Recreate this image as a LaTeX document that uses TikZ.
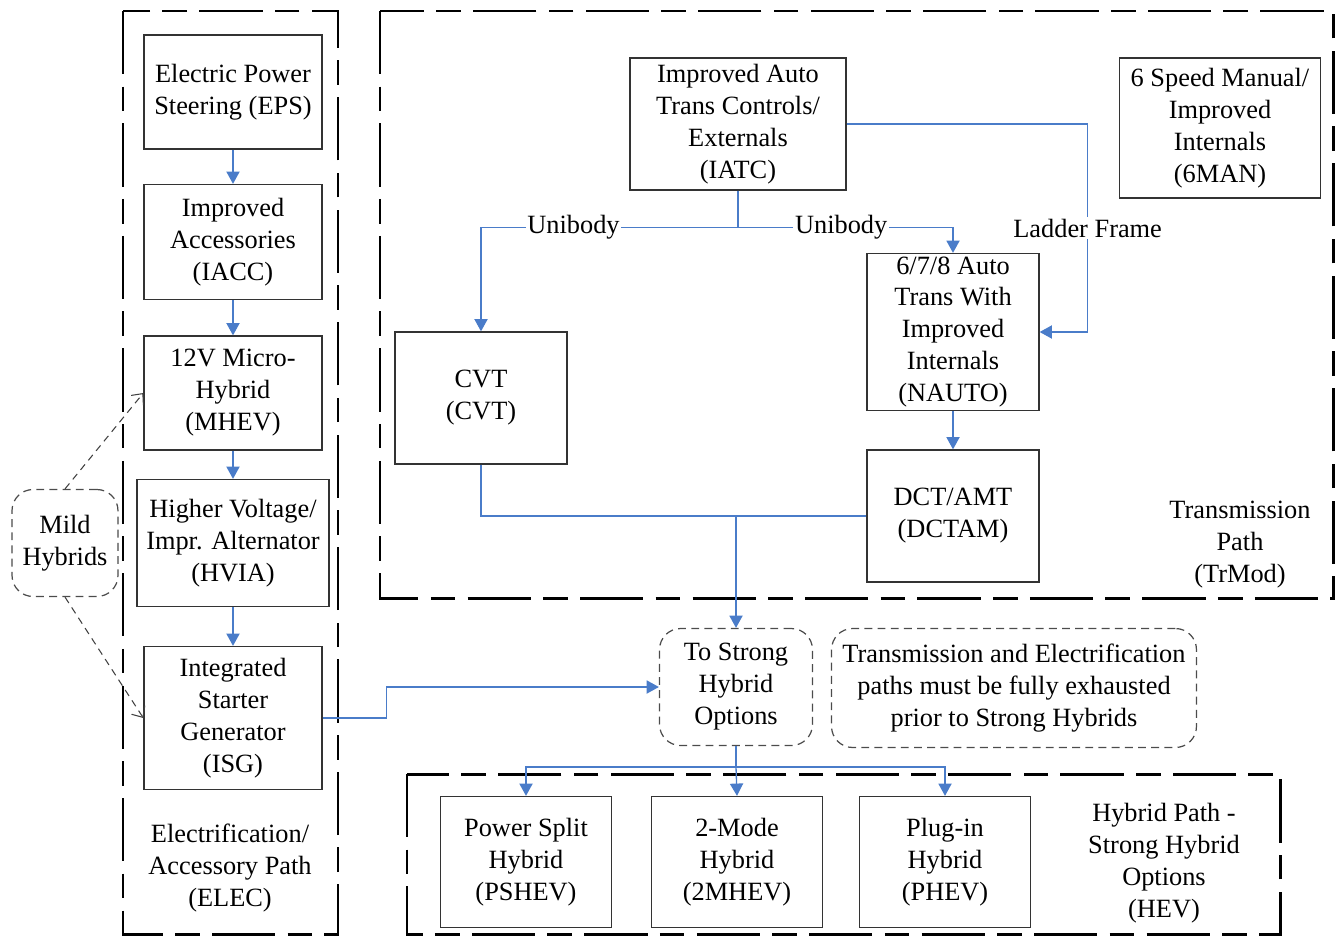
\documentclass[tikz,border=0pt]{standalone}
\usepackage{fontspec}
\setmainfont{Liberation Serif}
\usetikzlibrary{arrows.meta}
\definecolor{flowblue}{HTML}{4A7CC9}
\tikzset{
    tech-box/.style = {draw=black!80, line width=0.75pt, rectangle, align=center, inner sep=0pt},
    path-frame/.style = {draw=black, line width=1.7pt, dash pattern=on 36pt off 7pt on 14pt off 7pt},
    note-box/.style = {draw=black!70, line width=0.7pt, dash pattern=on 4.5pt off 3pt, rounded corners=12pt, align=center, inner sep=0pt},
    flow-line/.style = {draw=flowblue, line width=0.75pt},
    flow/.style = {flow-line, -{Triangle[length=7pt,width=7.5pt]}},
    path-label/.style = {fill=white, inner sep=1pt},
    mild-link/.style = {draw=black!75, line width=0.6pt, dash pattern=on 4pt off 3pt, -{Straight Barb[length=5pt,width=9pt]}},
}

\begin{document}
\begin{tikzpicture}[x=0.02cm, y=-0.02cm, font=\fontsize{15}{18.2}\selectfont]
\useasboundingbox (0,0) rectangle (1335,937);
% path frames
\draw[path-frame] (123,11) rectangle (338,934);
\draw[path-frame] (380,11) rectangle (1333,598);
\draw[path-frame] (407,774) rectangle (1280,934);

% electrification path
\node[tech-box, minimum width=3.56cm, minimum height=2.28cm] (eps) at (233,92) {Electric Power\\Steering (EPS)};
\node[tech-box, minimum width=3.56cm, minimum height=2.3cm] (iacc) at (233,242) {Improved\\Accessories\\(IACC)};
\node[tech-box, minimum width=3.56cm, minimum height=2.28cm] (mhev) at (233,393) {12V Micro-\\Hybrid\\(MHEV)};
\node[tech-box, minimum width=3.84cm, minimum height=2.54cm] (hvia) at (233,543) {Higher Voltage/\\Impr. Alternator\\(HVIA)};
\node[tech-box, minimum width=3.56cm, minimum height=2.86cm] (isg) at (233,718) {Integrated\\Starter\\Generator\\(ISG)};
\node[align=center] (elec) at (230,868) {Electrification/\\Accessory Path\\(ELEC)};
\node[note-box, minimum width=2.12cm, minimum height=2.14cm] (mild) at (65,543) {Mild\\Hybrids};

% transmission path
\node[tech-box, minimum width=4.32cm, minimum height=2.64cm] (iatc) at (738,124) {Improved Auto\\Trans Controls/\\Externals\\(IATC)};
\node[tech-box, minimum width=4.02cm, minimum height=2.8cm] (manual) at (1220,128) {6 Speed Manual/\\Improved\\Internals\\(6MAN)};
\node[tech-box, minimum width=3.44cm, minimum height=2.64cm] (cvt) at (481,398) {CVT\\(CVT)};
\node[tech-box, minimum width=3.44cm, minimum height=3.14cm] (nauto) at (953,332) {6/7/8 Auto\\Trans With\\Improved\\Internals\\(NAUTO)};
\node[tech-box, minimum width=3.44cm, minimum height=2.64cm] (dctam) at (953,516) {DCT/AMT\\(DCTAM)};
\node[align=center] (trmod) at (1240,545) {Transmission\\Path\\(TrMod)};

% strong hybrids
\node[note-box, minimum width=3.06cm, minimum height=2.34cm] (strong) at (736,687) {To Strong\\Hybrid\\Options};
\node[note-box, minimum width=7.3cm, minimum height=2.38cm] (exhaust) at (1014,688) {Transmission and Electrification\\paths must be fully exhausted\\prior to Strong Hybrids};
\node[tech-box, minimum width=3.42cm, minimum height=2.62cm] (pshev) at (526,862) {Power Split\\Hybrid\\(PSHEV)};
\node[tech-box, minimum width=3.42cm, minimum height=2.62cm] (twomode) at (737,862) {2-Mode\\Hybrid\\(2MHEV)};
\node[tech-box, minimum width=3.42cm, minimum height=2.62cm] (phev) at (945,862) {Plug-in\\Hybrid\\(PHEV)};
\node[align=center] (hev) at (1164,863) {Hybrid Path -\\Strong Hybrid\\Options\\(HEV)};

% connectors
\draw[flow] (eps.south) -- (iacc.north);
\draw[flow] (iacc.south) -- (mhev.north);
\draw[flow] (mhev.south) -- (hvia.north);
\draw[flow] (hvia.south) -- (isg.north);
\draw[mild-link] (mild.north) -- (mhev.west);
\draw[mild-link] (mild.south) -- (isg.west);

\draw[flow] (iatc.south) -- ++(0,37) -| node[path-label, pos=0.32] {Unibody} (cvt.north);
\draw[flow] (iatc.south) -- ++(0,37) -| node[path-label, pos=0.24] {Unibody} (nauto.north);
\draw[flow] (iatc.east) -- ++(241,0) |- node[path-label, pos=0.25] {Ladder Frame} (nauto.east);
\draw[flow] (nauto.south) -- (dctam.north);

\coordinate (merge) at (strong.north |- dctam.west);
\draw[flow-line] (cvt.south) |- (merge);
\draw[flow-line] (dctam.west) -- (merge);
\draw[flow] (merge) -- (strong.north);
\draw[flow] (isg.east) -- ++(64,0) |- (strong.west);

\path (strong.south) ++(0,21) coordinate (split);
\draw[flow-line] (strong.south) -- (split);
\draw[flow] (split) -| (pshev.north);
\draw[flow] (split) -- (twomode.north);
\draw[flow] (split) -| (phev.north);
\end{tikzpicture}
\end{document}
